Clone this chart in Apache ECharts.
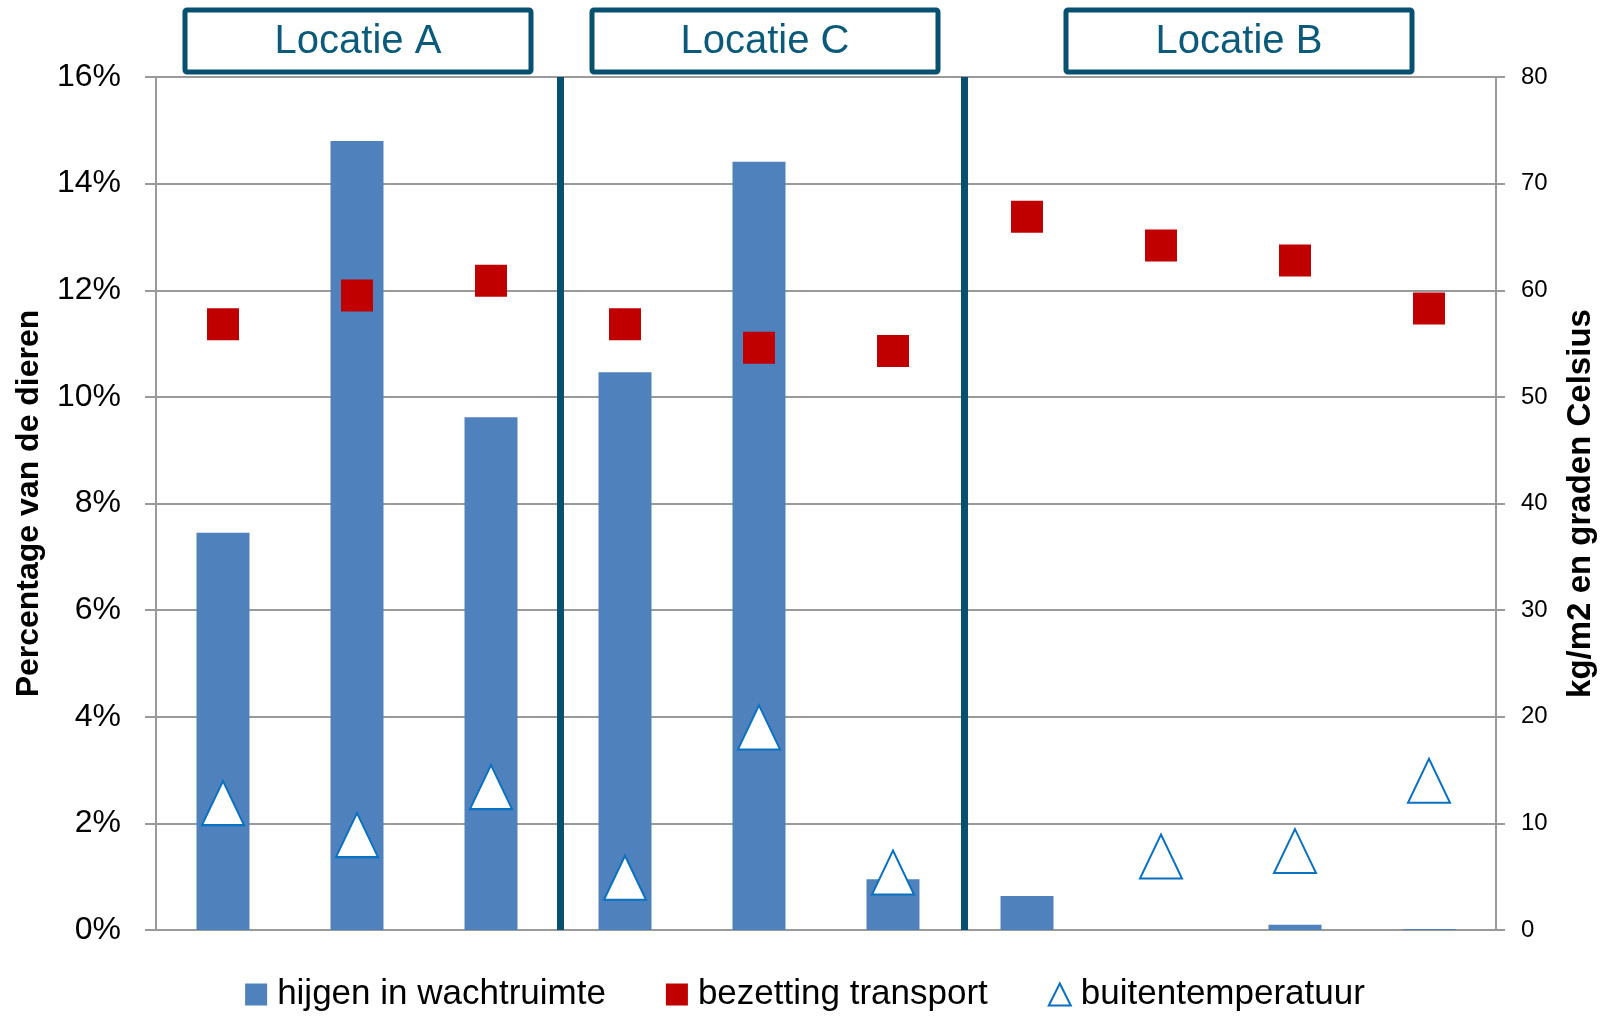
<!DOCTYPE html>
<html>
<head>
<meta charset="utf-8">
<script src="https://cdn.jsdelivr.net/npm/echarts@6/dist/echarts.min.js"></script>
<style>
html,body{margin:0;padding:0;background:#fff;}
#chart{width:1610px;height:1016px;}
</style>
</head>
<body>
<div id="chart"></div>
<script>
// ---- data ----
var categories = ['A1','A2','A3','C1','C2','C3','B1','B2','B3','B4'];
var hijgen = [0.0745, 0.148, 0.0962, 0.1046, 0.1441, 0.0095, 0.0064, 0, 0.0010, 0.0002];
var bezetting = [56.8, 59.5, 60.9, 56.8, 54.6, 54.3, 66.9, 64.2, 62.8, 58.3];
var temperatuur = [11.9, 8.9, 13.4, 4.9, 19.0, 5.4, null, 6.9, 7.4, 14.0];
var leftTicks = ['0%','2%','4%','6%','8%','10%','12%','14%','16%'];
var locaties = ['Locatie A', 'Locatie C', 'Locatie B'];
var seriesNames = ['hijgen in wachtruimte', 'bezetting transport', 'buitentemperatuur'];
var dividerPositions = [3.025, 6.025];

var FONT = '"Liberation Sans", Arial, sans-serif';
var DARK = '#08506f';
var GRID = '#9a9a9a';

var chart = echarts.init(document.getElementById('chart'), null, {renderer: 'canvas'});

function box(cx, label) {
  return {
    type: 'group',
    children: [
      {type: 'rect', shape: {x: cx - 173, y: 10, width: 346, height: 62, r: 2},
       style: {fill: '#fff', stroke: DARK, lineWidth: 5}},
      {type: 'text', x: cx, y: 42,
       style: {text: label, fill: '#0b5a7a', font: '40px ' + FONT, align: 'center', verticalAlign: 'middle'}}
    ]
  };
}

var option = {
  animation: false,
  backgroundColor: '#fff',
  grid: {left: 156, right: 114, top: 77, bottom: 86, containLabel: false},
  legend: {
    top: 977, left: 'center', padding: 0,
    itemWidth: 22, itemHeight: 22, itemGap: 60,
    textStyle: {fontFamily: FONT, fontSize: 35, color: '#000', padding: [0, 0, 0, 5]},
    data: [
      {name: seriesNames[0], icon: 'rect'},
      {name: seriesNames[1], icon: 'rect'},
      {name: seriesNames[2], icon: 'triangle', itemStyle: {color: '#fff', borderColor: '#0a70c0', borderWidth: 2}}
    ]
  },
  xAxis: [
    {type: 'category', data: categories, boundaryGap: true,
     axisLine: {show: false}, axisTick: {show: false}, axisLabel: {show: false}, splitLine: {show: false}},
    {type: 'value', min: 0, max: 10, show: false}
  ],
  yAxis: [
    {type: 'value', min: 0, max: 0.16, interval: 0.02, position: 'left',
     name: 'Percentage van de dieren', nameLocation: 'middle', nameRotate: 90, nameGap: 111,
     nameTextStyle: {fontFamily: FONT, fontSize: 32, fontWeight: 'bold', color: '#000'},
     axisLine: {show: true, lineStyle: {color: GRID, width: 2}},
     axisTick: {show: true, length: 11, lineStyle: {color: GRID, width: 2}},
     axisLabel: {margin: 35, fontFamily: FONT, fontSize: 32, color: '#000',
       formatter: function (v) { return leftTicks[Math.round(v / 0.02)]; }},
     splitLine: {show: true, lineStyle: {color: GRID, width: 2}}},
    {type: 'value', min: 0, max: 80, interval: 10, position: 'right',
     name: 'kg/m2 en graden Celsius', nameLocation: 'middle', nameRotate: 90, nameGap: 68,
     nameTextStyle: {fontFamily: FONT, fontSize: 33, fontWeight: 'bold', color: '#000'},
     axisLine: {show: true, lineStyle: {color: GRID, width: 2}},
     axisTick: {show: true, length: 9, lineStyle: {color: GRID, width: 2}},
     axisLabel: {margin: 25, fontFamily: FONT, fontSize: 24, color: '#000'},
     splitLine: {show: false}}
  ],
  series: [
    {name: seriesNames[0], type: 'bar', data: hijgen, xAxisIndex: 0, yAxisIndex: 0,
     barWidth: 53, itemStyle: {color: '#4f81bd'}, z: 2},
    {name: seriesNames[1], type: 'scatter', data: bezetting, xAxisIndex: 0, yAxisIndex: 1,
     symbol: 'rect', symbolSize: 32, itemStyle: {color: '#c00000', opacity: 1}, z: 4},
    {name: seriesNames[2], type: 'scatter', data: temperatuur, xAxisIndex: 0, yAxisIndex: 1,
     symbol: 'triangle', symbolSize: [42, 44],
     itemStyle: {color: '#fff', borderColor: '#0a70c0', borderWidth: 2, opacity: 1}, z: 5},
    {name: 'dividers', type: 'line', xAxisIndex: 1, yAxisIndex: 0, data: [],
     markLine: {silent: true, symbol: 'none', label: {show: false},
       lineStyle: {color: DARK, width: 7, type: 'solid'},
       data: dividerPositions.map(function (p) { return {xAxis: p}; })}, z: 3}
  ],
  graphic: [box(358, locaties[0]), box(765, locaties[1]), box(1239, locaties[2])]
};
chart.setOption(option);
</script>
</body>
</html>
